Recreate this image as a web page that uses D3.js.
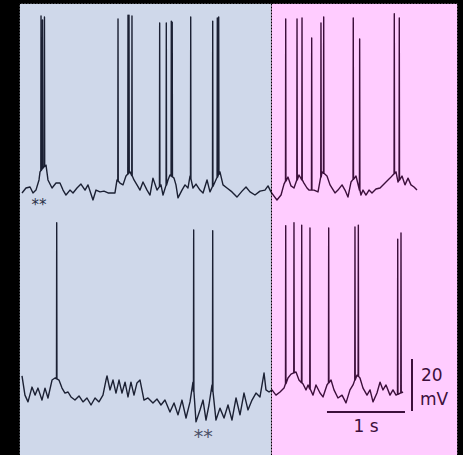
<!DOCTYPE html>
<html>
<head>
<meta charset="utf-8">
<script src="https://cdn.jsdelivr.net/npm/d3@7"></script>
<style>
  html, body { margin: 0; padding: 0; background: #000; }
  svg { display: block; }
</style>
</head>
<body>
<svg id="chart" width="463" height="455"></svg>
<script>
// time in s, membrane potential in mV
var topTrace = [
  [0, -66.9], [0.051, -65], [0.103, -64.6], [0.141, -66.9], [0.179, -65.8], [0.218, -61.9],
  [0.231, -58.8], [0.269, -57.3], [0.308, -56.2], [0.333, -61.9], [0.385, -65], [0.436, -63.1],
  [0.487, -63.1], [0.526, -65.8], [0.564, -67.7], [0.615, -65.8], [0.654, -66.9], [0.705, -65],
  [0.756, -63.5], [0.808, -65.8], [0.846, -63.8], [0.910, -69.6], [0.949, -65.8], [1.0, -66.5],
  [1.051, -66.2], [1.103, -66.9], [1.154, -66.9], [1.192, -66.9], [1.218, -61.9], [1.256, -63.1],
  [1.295, -63.8], [1.333, -60.4], [1.385, -58.8], [1.436, -61.9], [1.474, -63.8], [1.513, -65.8],
  [1.551, -62.7], [1.603, -65.8], [1.641, -67.7], [1.679, -61.2], [1.731, -65.8], [1.782, -63.8],
  [1.808, -67.7], [1.872, -61.9], [1.897, -60], [1.949, -61.2], [1.974, -63.8], [2.0, -68.8],
  [2.051, -65.8], [2.090, -63.8], [2.128, -65], [2.154, -60.4], [2.192, -65], [2.231, -63.5],
  [2.282, -65.8], [2.321, -66.9], [2.372, -61.9], [2.410, -66.5], [2.474, -62.7], [2.538, -58.8],
  [2.577, -63.8], [2.628, -65], [2.692, -66.5], [2.756, -68.5], [2.821, -66.2], [2.872, -64.6],
  [2.923, -66.5], [2.987, -67.7], [3.051, -66.2], [3.115, -65.8], [3.154, -64.2], [3.192, -66.5],
  [3.231, -68.1], [3.269, -69.6], [3.321, -67.7], [3.359, -63.5], [3.410, -60.8], [3.449, -64.2],
  [3.487, -65], [3.551, -60], [3.615, -63.1], [3.654, -65], [3.679, -65.8], [3.744, -65.8],
  [3.795, -66.5], [3.846, -58.8], [3.910, -60.4], [3.949, -63.8], [4.013, -66.9], [4.051, -65.8],
  [4.103, -63.8], [4.141, -65.8], [4.179, -68.5], [4.218, -62.7], [4.282, -60.4], [4.346, -67.7],
  [4.372, -65.8], [4.410, -67.7], [4.449, -65.8], [4.487, -66.9], [4.538, -65.4], [4.590, -65],
  [4.654, -63.1], [4.718, -61.2], [4.795, -58.8], [4.821, -62.7], [4.872, -60.4], [4.910, -63.8],
  [4.949, -61.2], [4.987, -63.8], [5.026, -64.6], [5.064, -65.8]
];
// spike times and peaks
var topSpikes = [
  [0.244, 1.2], [0.263, -0.4], [0.288, 0.8], [1.231, 0], [1.359, 1.5], [1.372, 1.5], [1.410, 1.2],
  [1.765, -1.5], [1.850, -1.5], [1.914, -0.8], [1.926, -1.2], [2.163, 0.8], [2.445, -0.8],
  [2.504, 0.4], [2.522, 0.8], [3.381, 0], [3.526, 0], [3.590, 0.4], [3.714, -7.3], [3.833, -1.5],
  [3.868, 0.8], [4.247, 0.4], [4.329, -7.7], [4.773, 2], [4.837, 0.4]
];

var bottomTrace = [
  [0, -58.8], [0.038, -66.2], [0.077, -68.8], [0.128, -63.1], [0.167, -66.2], [0.205, -63.5],
  [0.256, -68.1], [0.295, -63.5], [0.333, -67.3], [0.385, -60.4], [0.423, -59.6], [0.474, -60.4],
  [0.513, -63.5], [0.551, -65.4], [0.590, -65], [0.628, -66.9], [0.679, -68.1], [0.731, -66.5],
  [0.782, -68.8], [0.833, -67.3], [0.885, -70], [0.936, -67.3], [0.987, -68.8], [1.038, -66.2],
  [1.077, -60.4], [1.090, -58.8], [1.128, -64.2], [1.167, -60.4], [1.205, -65.4], [1.244, -60.4],
  [1.282, -65.4], [1.321, -61.2], [1.359, -66.9], [1.397, -61.2], [1.436, -66.2], [1.474, -61.5],
  [1.513, -60.4], [1.564, -68.1], [1.615, -67.3], [1.679, -69.2], [1.731, -67.7], [1.782, -70],
  [1.833, -68.1], [1.897, -72.7], [1.949, -69.2], [2.0, -73.8], [2.051, -68.1], [2.103, -75],
  [2.154, -68.8], [2.192, -61.2], [2.231, -76.5], [2.282, -71.9], [2.321, -68.1], [2.359, -75.8],
  [2.397, -70], [2.436, -62.3], [2.487, -75.8], [2.538, -71.2], [2.590, -75], [2.641, -70],
  [2.692, -75.8], [2.744, -67.3], [2.795, -73.8], [2.846, -65.4], [2.897, -71.9], [2.949, -68.1],
  [3.0, -65.4], [3.051, -66.9], [3.103, -57.7], [3.128, -64.2], [3.167, -65], [3.205, -64.2],
  [3.256, -66.2], [3.308, -65], [3.359, -63.5], [3.410, -59.6], [3.449, -58.1], [3.513, -57.3],
  [3.551, -60.4], [3.603, -61.9], [3.641, -64.2], [3.667, -62.3], [3.731, -66.2], [3.769, -62.3],
  [3.821, -65.4], [3.859, -66.9], [3.910, -62.3], [3.962, -60.4], [4.0, -64.2], [4.051, -67.3],
  [4.103, -66.2], [4.154, -69.2], [4.205, -64.2], [4.244, -62.3], [4.295, -58.5], [4.333, -59.6],
  [4.372, -63.5], [4.423, -66.2], [4.462, -64.2], [4.500, -68.8], [4.551, -65.4], [4.590, -61.2],
  [4.628, -64.2], [4.667, -62.3], [4.718, -66.2], [4.756, -64.2], [4.795, -66.2], [4.885, -65]
];
var bottomSpikes = [
  [0.445, 0.1], [2.201, -2.7], [2.445, -3], [3.381, -1], [3.487, 0.1], [3.586, -0.8], [3.692, -1.9],
  [3.932, -1.9], [4.269, -1.5], [4.312, -0.8], [4.817, -6.2], [4.859, -3.8]
];

var condition = ["control", "drug"];
var conditionStart = [0, 3.192];
var conditionEnd = [3.192, 5.58];

var timeBar = [3.91, 4.91];      // 1 s
var voltBar = [-52.3, -72.3];    // 20 mV

var svg = d3.select("#chart"),
    width = +svg.attr("width"),
    height = +svg.attr("height");

var x = d3.scaleLinear().domain([0, 5]).range([22, 412]);
var yTop = d3.scaleLinear().domain([-65, 0]).range([188, 19]);
var yBot = d3.scaleLinear().domain([-65, 0]).range([392, 223]);
var panelFill = d3.scaleOrdinal().domain(condition).range(["#cfd8ea", "#ffccff"]);
var traceColor = d3.scaleOrdinal().domain(condition).range(["#1b2033", "#3c0f3b"]);

svg.append("rect").attr("width", width).attr("height", height).attr("fill", "#000");

var x0 = 19.5, x1 = 457.5, yTopEdge = 3.5;
function edgeX(i, side) {
  if (side == 0) return i == 0 ? x0 : x(conditionStart[i]);
  return i == condition.length - 1 ? x1 : x(conditionEnd[i]);
}

var defs = svg.append("defs");
condition.forEach(function(c, i) {
  defs.append("clipPath").attr("id", "clip-" + c)
    .append("rect")
      .attr("x", edgeX(i, 0)).attr("y", yTopEdge)
      .attr("width", edgeX(i, 1) - edgeX(i, 0)).attr("height", height);
});

svg.append("g").selectAll("rect")
  .data(condition)
  .enter().append("rect")
    .attr("x", function(d, i) { return edgeX(i, 0); })
    .attr("y", yTopEdge)
    .attr("width", function(d, i) { return edgeX(i, 1) - edgeX(i, 0); })
    .attr("height", height - yTopEdge)
    .attr("fill", function(d) { return panelFill(d); });

// merge spikes into the sampled trace
function withSpikes(trace, spikes) {
  var base = d3.scaleLinear().domain(trace.map(function(p) { return p[0]; }))
                             .range(trace.map(function(p) { return p[1]; }));
  var pts = trace.slice();
  spikes.forEach(function(s) {
    var v = base(s[0]);
    pts.push([s[0] - 0.003, v], [s[0], s[1]], [s[0] + 0.003, v]);
  });
  pts.sort(function(a, b) { return a[0] - b[0]; });
  return pts;
}

var traces = [
  {pts: withSpikes(topTrace, topSpikes), y: yTop},
  {pts: withSpikes(bottomTrace, bottomSpikes), y: yBot}
];

condition.forEach(function(c) {
  var g = svg.append("g").attr("clip-path", "url(#clip-" + c + ")");
  traces.forEach(function(tr) {
    var line = d3.line()
        .x(function(d) { return x(d[0]); })
        .y(function(d) { return tr.y(d[1]); });
    g.append("path")
      .datum(tr.pts)
      .attr("d", line)
      .attr("fill", "none")
      .attr("stroke", traceColor(c))
      .attr("stroke-width", 1.4)
      .attr("stroke-linejoin", "round");
  });
});

// dotted frame lines
var dash = svg.append("g").attr("stroke", "#000").attr("stroke-width", 1).attr("stroke-dasharray", "2,1");
dash.append("line").attr("x1", x0).attr("x2", x0).attr("y1", yTopEdge).attr("y2", height);
dash.append("line").attr("x1", x1).attr("x2", x1).attr("y1", yTopEdge).attr("y2", height);
dash.append("line").attr("x1", x0).attr("x2", x1).attr("y1", yTopEdge).attr("y2", yTopEdge);
dash.append("line")
  .attr("x1", Math.round(x(conditionStart[1])) + 0.5).attr("x2", Math.round(x(conditionStart[1])) + 0.5)
  .attr("y1", yTopEdge).attr("y2", height);

// scale bars
var bars = svg.append("g").attr("stroke", "#3c0f3b").attr("stroke-width", 2);
bars.append("line")
  .attr("x1", x(timeBar[0])).attr("x2", x(timeBar[1]))
  .attr("y1", yBot(-72.3) + 1).attr("y2", yBot(-72.3) + 1);
bars.append("line")
  .attr("x1", x(5.0)).attr("x2", x(5.0))
  .attr("y1", yBot(voltBar[0])).attr("y2", yBot(voltBar[1]));

var label = svg.append("g")
  .attr("font-family", "DejaVu Sans, Verdana, sans-serif")
  .attr("fill", "#3c0f3b");
label.append("text").attr("x", x((timeBar[0] + timeBar[1]) / 2)).attr("y", 432)
  .attr("text-anchor", "middle").attr("font-size", 17).text("1 s");
label.append("text").attr("x", 421).attr("y", 381).attr("font-size", 17).text("20");
label.append("text").attr("x", 420).attr("y", 405).attr("font-size", 17).text("mV");

svg.append("text").attr("x", x(2.323)).attr("y", 443)
  .attr("text-anchor", "middle")
  .attr("font-family", "DejaVu Sans, sans-serif").attr("font-size", 19)
  .attr("fill", "#4a5068").text("**");
svg.append("text").attr("x", x(0.218)).attr("y", 210)
  .attr("text-anchor", "middle")
  .attr("font-family", "DejaVu Sans, sans-serif").attr("font-size", 15)
  .attr("fill", "#2a3045").text("**");
</script>
</body>
</html>
